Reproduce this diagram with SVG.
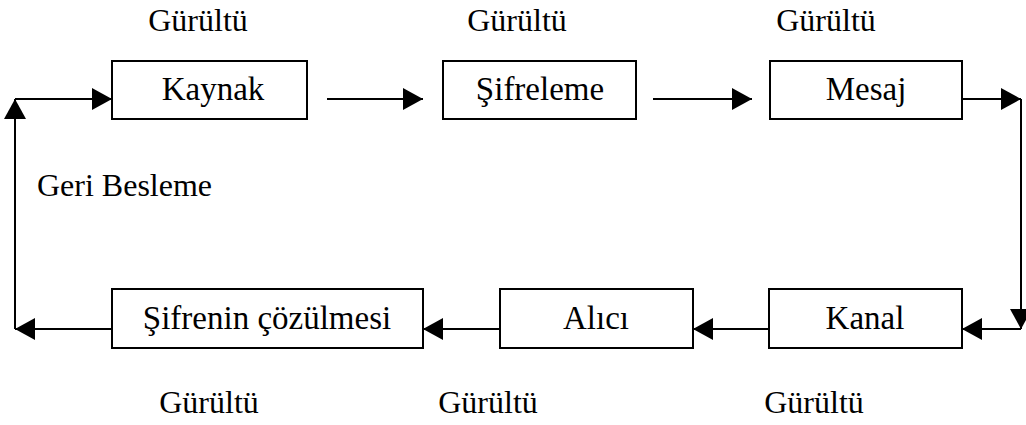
<svg xmlns="http://www.w3.org/2000/svg" width="1026" height="425" viewBox="0 0 1026 425">
<style>
.box{fill:#fff;stroke:#000;stroke-width:2}
text{font-family:'Liberation Serif','Times New Roman',Tinos,'DejaVu Serif',serif;fill:#000}
.lbl{font-size:33px;text-anchor:middle}
.noise{font-size:32px;text-anchor:middle}
.con{fill:none;stroke:#000;stroke-width:2;marker-end:url(#ah)}
</style>
<defs>
<marker id="ah" markerUnits="userSpaceOnUse" markerWidth="22" markerHeight="24" refX="20" refY="11" orient="auto">
<path d="M0,0 L20,11 L0,22 z" fill="#000"/>
</marker>
</defs>
<rect width="1026" height="425" fill="#fff"/>
<g id="connectors">
<line class="con" x1="327" y1="99" x2="423" y2="99"/>
<line class="con" x1="653" y1="99" x2="752" y2="99"/>
<line class="con" x1="962" y1="99" x2="1021" y2="99"/>
<line class="con" x1="1021" y1="99" x2="1021" y2="329"/>
<line class="con" x1="1021" y1="329" x2="962" y2="329"/>
<line class="con" x1="769" y1="329" x2="693" y2="329"/>
<line class="con" x1="500" y1="329" x2="423" y2="329"/>
<line class="con" x1="112" y1="329" x2="15" y2="329"/>
<line class="con" x1="15" y1="329" x2="15" y2="99"/>
<line class="con" x1="15" y1="99" x2="112" y2="99"/>
</g>
<g id="kaynak"><rect class="box" x="112" y="61" width="195" height="58"/><text class="lbl" x="213" y="100" font-family="Liberation Serif, serif">Kaynak</text></g>
<g id="sifreleme"><rect class="box" x="443" y="61" width="193" height="58"/><text class="lbl" x="540" y="100" font-family="Liberation Serif, serif">Şifreleme</text></g>
<g id="mesaj"><rect class="box" x="770" y="61" width="192" height="58"/><text class="lbl" x="866" y="100" font-family="Liberation Serif, serif">Mesaj</text></g>
<g id="sifrenin-cozulmesi"><rect class="box" x="112" y="289" width="311" height="59"/><text class="lbl" x="267" y="329" font-family="Liberation Serif, serif">Şifrenin çözülmesi</text></g>
<g id="alici"><rect class="box" x="500" y="289" width="193" height="59"/><text class="lbl" x="596" y="329" font-family="Liberation Serif, serif">Alıcı</text></g>
<g id="kanal"><rect class="box" x="769" y="289" width="193" height="59"/><text class="lbl" x="865" y="329" font-family="Liberation Serif, serif">Kanal</text></g>
<g id="labels" font-family="Liberation Serif, serif">
<text class="noise" x="198" y="31">Gürültü</text>
<text class="noise" x="517" y="31">Gürültü</text>
<text class="noise" x="826" y="31">Gürültü</text>
<text class="noise" x="209" y="413">Gürültü</text>
<text class="noise" x="488" y="413">Gürültü</text>
<text class="noise" x="814" y="413">Gürültü</text>
<text x="37" y="196" font-size="32">Geri Besleme</text>
</g>
</svg>
